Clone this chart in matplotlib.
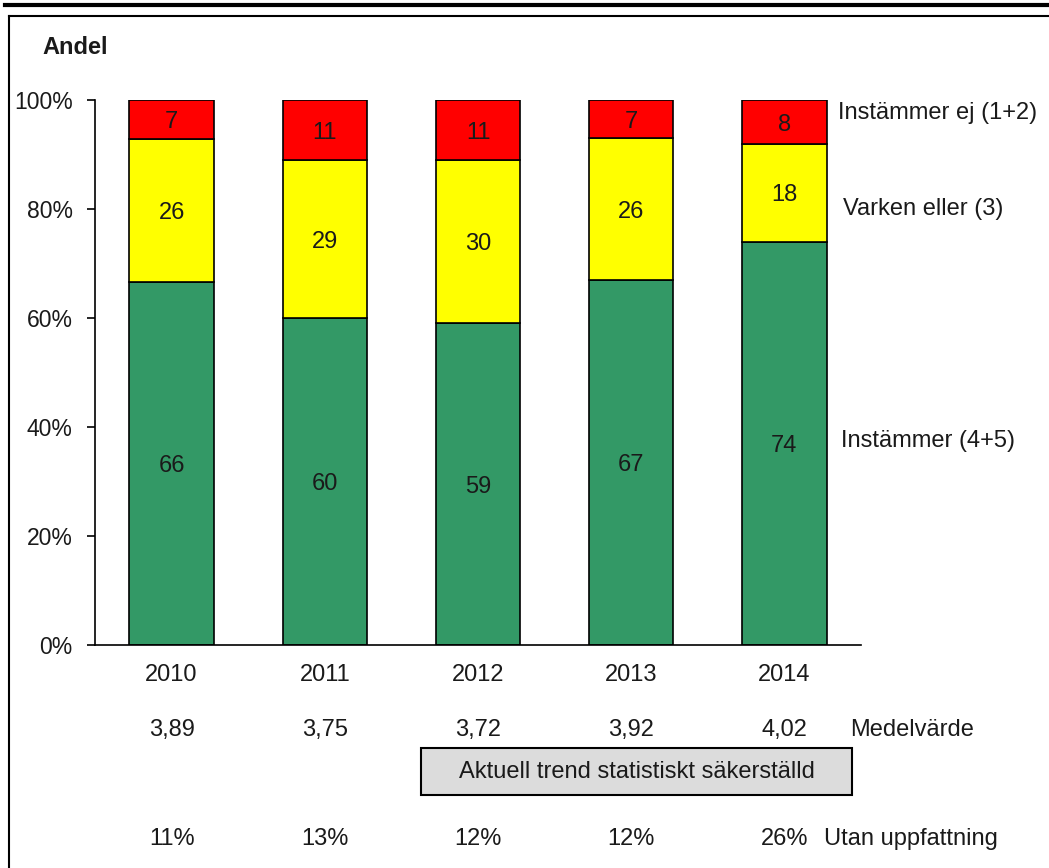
import numpy as np
import matplotlib.pyplot as plt
from matplotlib.lines import Line2D
from matplotlib.patches import Rectangle

plt.rcParams['font.family'] = ['Liberation Sans', 'DejaVu Sans']

years = ['2010', '2011', '2012', '2013', '2014']
instammer = [66, 60, 59, 67, 74]      # 4+5
varken = [26, 29, 30, 26, 18]         # 3
instammer_ej = [7, 11, 11, 7, 8]      # 1+2
medel = ['3,89', '3,75', '3,72', '3,92', '4,02']
utan = ['11%', '13%', '12%', '12%', '26%']

series = [instammer, varken, instammer_ej]
colors = ['#339966', '#ffff00', '#ff0000']
names = ['Instämmer (4+5)', 'Varken eller (3)', 'Instämmer ej (1+2)']

data = np.array(series, dtype=float)
share = data / data.sum(axis=0)  # 100% stacked

FS = 17
TXT = '#1a1a1a'

fig = plt.figure(figsize=(10.49, 8.68), dpi=100)
W, H = 1049, 868
ax = fig.add_axes([95 / W, 1 - 645 / H, (861 - 95) / W, (645 - 100) / H])

x = np.arange(len(years))
bottom = np.zeros(len(years))
for vals, sh, col in zip(series, share, colors):
    ax.bar(x, sh, 0.55, bottom=bottom, color=col, edgecolor='black', linewidth=1.2)
    for xi, b, s, v in zip(x, bottom, sh, vals):
        ax.text(xi, b + s / 2 - 0.005, str(v), ha='center', va='center', fontsize=FS, color=TXT)
    bottom += sh

ax.set_xlim(-0.5, 4.5)
ax.set_ylim(0, 1)
ax.set_yticks(np.arange(0, 1.01, 0.2))
ax.set_yticklabels(['%d%%' % round(v * 100) for v in np.arange(0, 1.01, 0.2)], fontsize=16.5, color=TXT)
ax.set_xticks(x)
ax.set_xticklabels(years, fontsize=FS, color=TXT)
ax.tick_params(axis='x', length=0, pad=14)
ax.tick_params(axis='y', length=6, width=1.2, direction='out', pad=10)
for s in ['top', 'right']:
    ax.spines[s].set_visible(False)
for s in ['left', 'bottom']:
    ax.spines[s].set_linewidth(1.2)

# series names on the right of the plot
name_x = [841, 843, 838]
name_y = [441, 209, 113]
for n, xp, yp in zip(names, name_x, name_y):
    fig.text(xp / W, 1 - yp / H, n, fontsize=FS, va='center', ha='left', color=TXT)

fig.text(42 / W, 1 - 47 / H, 'Andel', fontsize=FS, fontweight='bold', va='center', color=TXT)

for xi, m, u in zip(x, medel, utan):
    xf = ax.transData.transform((xi, 0))[0] / W
    fig.text(xf, 1 - 730 / H, m, ha='center', va='center', fontsize=FS, color=TXT)
    fig.text(xf, 1 - 839 / H, u, ha='center', va='center', fontsize=FS, color=TXT)
fig.text(850 / W, 1 - 730 / H, 'Medelvärde', ha='left', va='center', fontsize=FS, color=TXT)
fig.text(824 / W, 1 - 839 / H, 'Utan uppfattning', ha='left', va='center', fontsize=FS, color=TXT)

# trend box
fig.patches.append(Rectangle((421 / W, 1 - 795 / H), (852 - 421) / W, 47 / H,
                             transform=fig.transFigure, facecolor='#dcdcdc',
                             edgecolor='black', linewidth=1.5))
fig.text(637 / W, 1 - 772 / H, 'Aktuell trend statistiskt säkerställd',
         ha='center', va='center', fontsize=FS, color=TXT)

# outer frame lines
fig.add_artist(Line2D([5 / W, 1], [1 - 5 / H, 1 - 5 / H], color='black', linewidth=3, transform=fig.transFigure))
fig.add_artist(Line2D([9 / W, 1], [1 - 16 / H, 1 - 16 / H], color='black', linewidth=1.5, transform=fig.transFigure))
fig.add_artist(Line2D([9 / W, 9 / W], [0, 1 - 16 / H], color='black', linewidth=1.5, transform=fig.transFigure))

fig.savefig('out.png', dpi=100)
